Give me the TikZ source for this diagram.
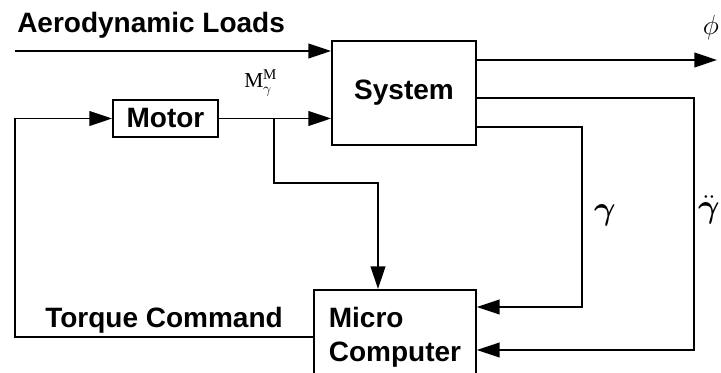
\documentclass[tikz,border=0pt]{standalone}
\usepackage{amsmath}
\usepackage{fontspec}
\setmainfont{Liberation Sans}
\newfontfamily\serfont{Liberation Serif}
\usetikzlibrary{arrows.meta,positioning,calc}

\begin{document}
\begin{tikzpicture}[
  x=0.75pt, y=-0.75pt,
  >={Triangle[length=17pt,width=11pt]},
  % Styles
  block/.style={draw,rectangle,line width=1.4pt,inner sep=0pt,
    font=\bfseries\fontsize{21}{26}\selectfont},
  sigarrow/.style={->,line width=1.4pt},
  tag/.style={inner sep=0pt,font=\bfseries\fontsize{21}{26}\selectfont},
  symb/.style={inner sep=0pt,font=\fontsize{32}{36}\selectfont},
  ]
\useasboundingbox (0,0) rectangle (721,373);

%--- Blocks ---------------------------------------------------------
\node[block, minimum width=108pt, minimum height=78pt] (sys) at (404,93) {System};
\node[block, minimum width=78.75pt, minimum height=27.75pt] (motor) at (165.5,118.5) {Motor};
\node[block, anchor=north west, minimum width=121.5pt, minimum height=71pt, align=left]
  (micro) at (313,289) {Micro\\Computer};

%--- Labels ---------------------------------------------------------
\node[tag, anchor=base west] (aero) at (17,33) {Aerodynamic Loads};
\node[tag, anchor=base west] (torque) at (45,328) {Torque Command};
\node[symb, font=\fontsize{21}{24}\selectfont] (phi) at (711,28) {$\phi$};
\node[symb, anchor=base west, font=\fontsize{16}{19}\selectfont] (mom) at (244,88)
  {{\serfont M}$^{\text{\serfont M}}_{\gamma}$};
\node[symb] (gam) at (605,215) {$\boldsymbol{\gamma}$};
\node[symb] (gamdd) at (709,210) {$\ddot{\boldsymbol{\gamma}}$};

%--- Helper points --------------------------------------------------
\coordinate (aeroin) at (15,51);
\coordinate (tap) at (274,118.5);
\coordinate (bend) at (378,183);
\coordinate (loop) at (15,118.5);
\coordinate (phiend) at (717,60);
\coordinate (posTop) at (582,127);
\coordinate (posBot) at (582,307);
\coordinate (accTop) at (694,98);
\coordinate (accBot) at (694,350);

%--- Connections ----------------------------------------------------
% Disturbance and motor torque into the system
\draw[sigarrow] (aeroin) -- (aeroin -| sys.west);
\draw[sigarrow] (motor.east) -- (motor.east -| sys.west);

% Measured motor torque to the computer
\draw[sigarrow] (tap) |- (bend) -- (bend |- micro.north);

% Torque command back to the motor
\draw[sigarrow] (micro.west) -| (loop) -- (motor.west);

% System outputs
\draw[sigarrow] (phiend -| sys.east) -- (phiend);
\draw[sigarrow] (posTop -| sys.east) -- (posTop) -- (posBot) -- (posBot -| micro.east);
\draw[sigarrow] (accTop -| sys.east) -- (accTop) -- (accBot) -- (accBot -| micro.east);

\end{tikzpicture}
\end{document}
